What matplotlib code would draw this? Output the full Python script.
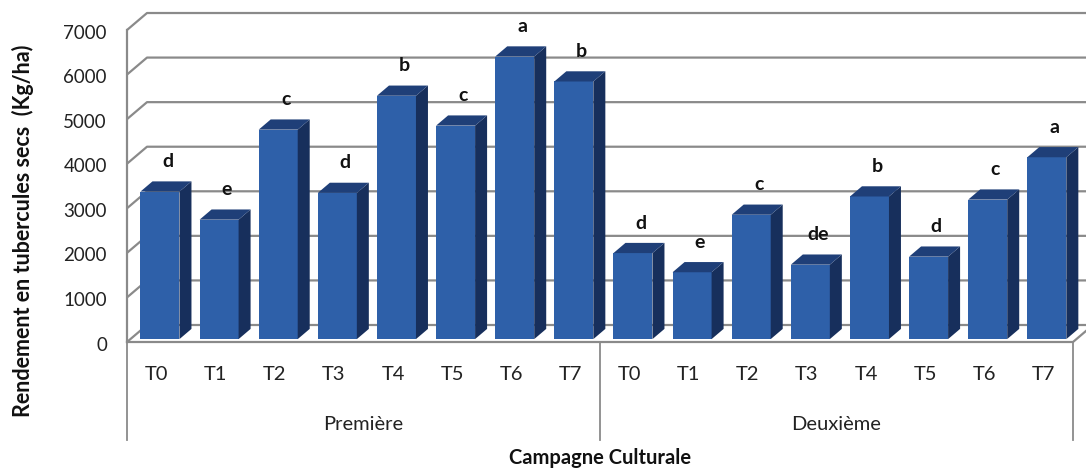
import matplotlib
matplotlib.use("Agg")
import matplotlib.pyplot as plt
from matplotlib.patches import Polygon

# Yield data (kg/ha) per treatment and cropping season
treatments = ["T0", "T1", "T2", "T3", "T4", "T5", "T6", "T7"]
seasons = ["Première", "Deuxième"]
yield_first = [3310, 2680, 4700, 3280, 5460, 4790, 6340, 5780]
yield_second = [1930, 1500, 2790, 1670, 3200, 1850, 3130, 4080]
letters_first = ["d", "e", "c", "d", "b", "c", "a", "b"]
letters_second = ["d", "e", "c", "de", "b", "d", "c", "a"]
y_ticks = [0, 1000, 2000, 3000, 4000, 5000, 6000, 7000]

values = yield_first + yield_second
letters = letters_first + letters_second
n = len(values)

FONT = "Lato"
W, H, DPI = 1086, 472, 100
fig = plt.figure(figsize=(W / DPI, H / DPI), dpi=DPI)
ax = fig.add_axes([0, 0, 1, 1])

# pixel geometry of the oblique projection
x0_px, slot_px = 127.0, 59.125      # front-left floor corner, category slot width
y0_px, px_per_unit = 342.0, 0.04457  # front floor level, pixels per kg/ha
ax.set_xlim(-x0_px / slot_px, (W - x0_px) / slot_px)
ax.set_ylim(-(H - y0_px) / px_per_unit, y0_px / px_per_unit)
ax.axis("off")

# depth vector of the floor (slots, kg/ha)
DX = 20.0 / slot_px
DY = 17.0 / px_per_unit

grid_col = "#8a8a8a"
ymax = y_ticks[-1]

# back wall and left wall gridlines
for v in y_ticks:
    ax.plot([0, DX, n + DX + 1], [v, v + DY, v + DY], color=grid_col, lw=1.6,
            solid_capstyle="butt", zorder=1)
# left wall front edge
ax.plot([0, 0], [0, ymax], color=grid_col, lw=1.6, zorder=1)
# floor front and right edges
ax.plot([0, n, n + DX], [0, 0, DY], color=grid_col, lw=1.6, zorder=1)

# 3-D columns
front_c, side_c, top_c = "#2e60a9", "#172f5c", "#1f3f78"
f0, depth = 0.17, 0.60
bw = 39.0 / slot_px
for i, v in enumerate(values):
    bx0 = i + (1 - bw) / 2 + f0 * DX
    bx1 = bx0 + bw
    by = f0 * DY
    ddx, ddy = depth * DX, depth * DY
    front = [(bx0, by), (bx1, by), (bx1, by + v), (bx0, by + v)]
    side = [(bx1, by), (bx1 + ddx, by + ddy), (bx1 + ddx, by + v + ddy), (bx1, by + v)]
    top = [(bx0, by + v), (bx1, by + v), (bx1 + ddx, by + v + ddy), (bx0 + ddx, by + v + ddy)]
    ax.add_patch(Polygon(front, closed=True, fc=front_c, ec="none", zorder=3))
    ax.add_patch(Polygon(side, closed=True, fc=side_c, ec="none", zorder=3))
    ax.add_patch(Polygon(top, closed=True, fc=top_c, ec="none", zorder=3))
    ax.text(i + 0.5 + 11 / slot_px, v + by + 30 / px_per_unit, letters[i],
            ha="center", va="center", fontsize=14, fontweight="bold",
            family=FONT, color="#111111", zorder=4)

# value axis labels
for v in y_ticks:
    ax.text(-20 / slot_px, v - 70, f"{v}", ha="right", va="center",
            fontsize=13.5, family=FONT, color="#222222")

# category axis: treatment labels, season labels, separators
sep_bottom = -98 / px_per_unit
for s in range(len(seasons) + 1):
    xs = s * len(treatments)
    ax.plot([xs, xs], [0, sep_bottom], color=grid_col, lw=1.3, zorder=1)
for i in range(n):
    ax.text(i + 0.5, -33 / px_per_unit, treatments[i % len(treatments)],
            ha="center", va="center", fontsize=14.5, family=FONT, color="#222222")
for s, name in enumerate(seasons):
    ax.text(s * len(treatments) + len(treatments) / 2, -83 / px_per_unit, name,
            ha="center", va="center", fontsize=14.5, family=FONT, color="#222222")

ax.text(n / 2, -116 / px_per_unit, "Campagne Culturale", ha="center", va="center",
        fontsize=14.5, fontweight="bold", family=FONT, color="#111111")
ax.text(-104 / slot_px, 2490, "Rendement en tubercules secs  (Kg/ha)", rotation=90,
        ha="center", va="center", fontsize=15.5, fontweight="bold", family=FONT,
        color="#111111")

fig.savefig("out.png", dpi=DPI)
